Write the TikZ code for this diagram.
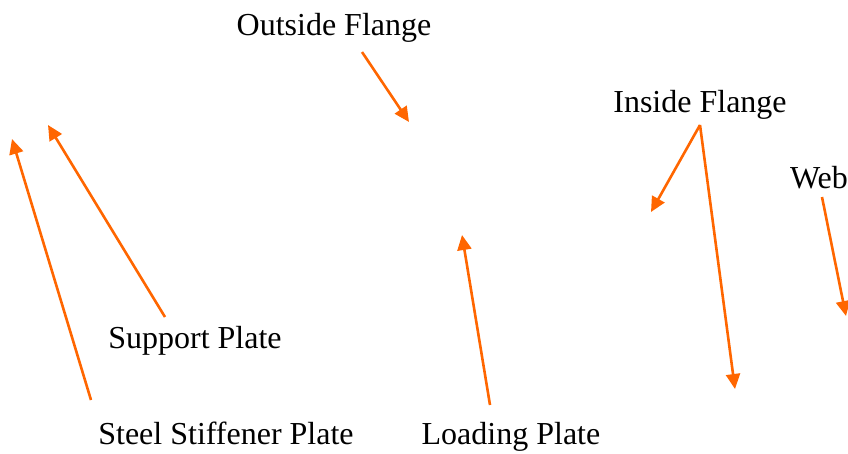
\documentclass[tikz,border=0pt]{standalone}
\usepackage{fontspec}
\setmainfont{Liberation Serif}
\usetikzlibrary{arrows.meta}
\definecolor{arrorange}{RGB}{255,102,0}
\tikzset{
  lbl/.style={inner sep=0pt, anchor=base, font=\fontsize{32}{38}\selectfont},
  ptr/.style={draw=arrorange, line width=2.6pt, -{Triangle[length=15pt,width=14pt]}}
}
\begin{document}
\begin{tikzpicture}[x=1pt,y=-1pt]
\useasboundingbox (0,0) rectangle (848,453);
\node[lbl] (of) at (334,35) {Outside Flange};
\node[lbl] (if) at (700,112) {Inside Flange};
\node[lbl] (web) at (819,188) {Web};
\node[lbl] (sp) at (195,348) {Support Plate};
\node[lbl] (ssp) at (226,444) {Steel Stiffener Plate};
\node[lbl] (lp) at (511,444) {Loading Plate};
\coordinate (ofS) at (362,52);
\coordinate (ofT) at (409,122);
\coordinate (sspS) at (91,400);
\coordinate (sspT) at (12,139);
\coordinate (spS) at (165,317);
\coordinate (spT) at (48,125);
\coordinate (lpS) at (490,405);
\coordinate (lpT) at (462,235);
\coordinate (ifS) at (700,125);
\coordinate (ifT1) at (651,212);
\coordinate (ifT2) at (735,389);
\coordinate (webS) at (822,197);
\coordinate (webT) at (846,316);
\draw[ptr] (ofS) -- (ofT);
\draw[ptr] (sspS) -- (sspT);
\draw[ptr] (spS) -- (spT);
\draw[ptr] (lpS) -- (lpT);
\draw[ptr] (ifS) -- (ifT1);
\draw[ptr] (ifS) -- (ifT2);
\draw[ptr] (webS) -- (webT);
\end{tikzpicture}
\end{document}
